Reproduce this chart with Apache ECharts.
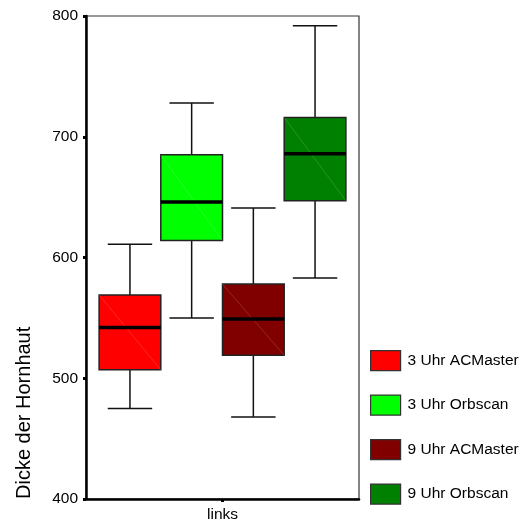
<!DOCTYPE html>
<html>
<head>
<meta charset="utf-8">
<style>
  html, body { margin: 0; padding: 0; background: #fff; }
  #chart { width: 528px; height: 527px; }
</style>
<script src="https://cdn.jsdelivr.net/npm/echarts@6/dist/echarts.min.js"></script>
</head>
<body>
<div id="chart"></div>
<script>
// Corneal thickness, left eye: boxplot statistics per group
const categories = ['links'];
const groupNames = ['3 Uhr ACMaster', '3 Uhr Orbscan', '9 Uhr ACMaster', '9 Uhr Orbscan'];
const groupColors = ['#ff0000', '#00ff00', '#800000', '#008000'];
// [min, Q1, median, Q3, max]
const acmaster3 = [475, 507, 542, 569, 611];
const orbscan3  = [550, 614, 646, 685, 728];
const acmaster9 = [468, 519, 549, 578, 641];
const orbscan9  = [583, 647, 686, 716, 792];
const groupStats = [acmaster3, orbscan3, acmaster9, orbscan9];
const yTicks = [400, 500, 600, 700, 800];

const FONT = 'Liberation Sans, Arial, sans-serif';
const BOX_FRAC = 0.226;   // box width as share of the category band
const CAP_FRAC = 0.72;    // whisker cap width as share of box width

function renderBox(params, api) {
  const idx = params.seriesIndex;
  const cat = api.value(0);
  const band = api.size([1, 0])[0];
  const w = band * BOX_FRAC;
  const cx = api.coord([cat, yTicks[0]])[0] + (idx - 1.5) * w;
  const py = k => api.coord([cat, api.value(k)])[1];
  const yMin = py(1), yQ1 = py(2), yMed = py(3), yQ3 = py(4), yMax = py(5);
  const x0 = cx - w / 2, x1 = cx + w / 2;
  const cw = w * CAP_FRAC;
  const line = { stroke: '#111', lineWidth: 1.5 };
  return {
    type: 'group',
    children: [
      { type: 'line', shape: { x1: cx, y1: yMax, x2: cx, y2: yQ3 }, style: line },
      { type: 'line', shape: { x1: cx, y1: yQ1, x2: cx, y2: yMin }, style: line },
      { type: 'line', shape: { x1: cx - cw / 2, y1: yMax, x2: cx + cw / 2, y2: yMax }, style: line },
      { type: 'line', shape: { x1: cx - cw / 2, y1: yMin, x2: cx + cw / 2, y2: yMin }, style: line },
      { type: 'rect', shape: { x: x0, y: yQ3, width: w, height: yQ1 - yQ3 },
        style: { fill: api.visual('color'), stroke: '#222', lineWidth: 1.5 } },
      { type: 'line', shape: { x1: x0, y1: yQ3, x2: x1, y2: yQ1 },
        style: { stroke: 'rgba(255,255,255,0.22)', lineWidth: 0.7 } },
      { type: 'line', shape: { x1: x0, y1: yMed, x2: x1, y2: yMed },
        style: { stroke: '#000', lineWidth: 3.5 } }
    ]
  };
}

const chart = echarts.init(document.getElementById('chart'));
chart.setOption({
  animation: false,
  textStyle: { fontFamily: FONT },
  grid: {
    left: 86, top: 16, right: 169, bottom: 28,
    show: true, borderColor: '#333', borderWidth: 1.2, backgroundColor: 'transparent'
  },
  legend: {
    orient: 'vertical',
    left: 370, top: 350,
    padding: 0,
    itemWidth: 30, itemHeight: 20, itemGap: 23.3,
    icon: 'rect',
    data: groupNames.map((n, i) => ({
      name: n,
      itemStyle: { color: groupColors[i], borderColor: '#333', borderWidth: 1.2 }
    })),
    textStyle: { fontSize: 15.5, color: '#000', fontFamily: FONT, padding: [0, 0, 0, 2] }
  },
  xAxis: {
    type: 'category',
    data: categories,
    axisLine: { lineStyle: { color: '#000', width: 2.5 } },
    axisTick: { show: true, alignWithLabel: true, length: 3, lineStyle: { color: '#000', width: 3 } },
    axisLabel: { color: '#000', fontSize: 15.5, margin: 8 },
    splitLine: { show: false }
  },
  yAxis: {
    type: 'value',
    min: 400, max: 800, interval: 100,
    axisLine: { show: true, lineStyle: { color: '#000', width: 2.5 } },
    axisTick: { show: true, length: 3, lineStyle: { color: '#000', width: 3 } },
    axisLabel: { color: '#000', fontSize: 15.5, margin: 8 },
    splitLine: { show: false }
  },
  graphic: [{
    type: 'text',
    x: 24, y: 499,
    rotation: Math.PI / 2,
    style: {
      text: 'Dicke der Hornhaut',
      fill: '#000',
      font: '20px Liberation Sans, Arial, sans-serif',
      align: 'left',
      verticalAlign: 'middle'
    }
  }],
  series: groupStats.map((s, i) => ({
    name: groupNames[i],
    type: 'custom',
    renderItem: renderBox,
    itemStyle: { color: groupColors[i] },
    encode: { x: 0, y: [1, 2, 3, 4, 5] },
    data: [[0].concat(s)]
  }))
});
</script>
</body>
</html>
